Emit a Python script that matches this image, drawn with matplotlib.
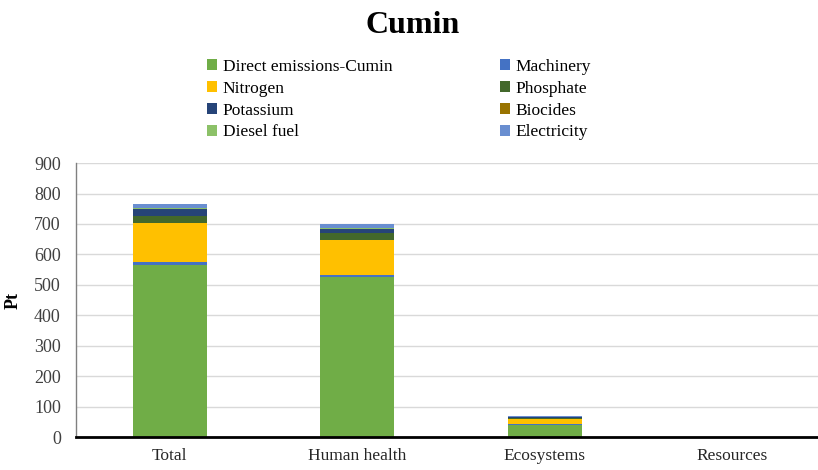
import numpy as np
import matplotlib
matplotlib.use('Agg')
import matplotlib.pyplot as plt
from matplotlib.patches import Patch

plt.rcParams['font.family'] = ['Liberation Serif', 'DejaVu Serif']

categories = ['Total', 'Human health', 'Ecosystems', 'Resources']

series = ['Direct emissions-Cumin', 'Machinery', 'Nitrogen', 'Phosphate',
          'Potassium', 'Biocides', 'Diesel fuel', 'Electricity']

direct = [564, 525, 40, 0.3]
machinery = [11, 9, 4, 0.1]
nitrogen = [127, 112, 16, 0.1]
phosphate = [25, 23, 3, 0.1]
potassium = [22, 15, 2, 0.1]
biocides = [1, 1, 0.5, 0.0]
diesel = [3, 3, 1, 0.1]
electricity = [13, 12, 3, 0.1]

values = [direct, machinery, nitrogen, phosphate, potassium, biocides, diesel, electricity]
colors = ['#70ad47', '#4472c4', '#ffc000', '#43682b',
          '#264478', '#997300', '#8cc168', '#698ed0']

fig = plt.figure(figsize=(8.18, 4.70), dpi=100)
ax = fig.add_axes([0.093, 0.070, 0.917, 0.583])

x = np.arange(len(categories))
bottom = np.zeros(len(categories))
for name, vals, c in zip(series, values, colors):
    ax.bar(x, vals, 0.395, bottom=bottom, color=c, label=name, zorder=3)
    bottom += np.array(vals)

ax.set_xlim(-0.5, 3.5)
ax.set_ylim(0, 900)
ax.set_yticks(np.arange(0, 901, 100))
ax.set_xticks(x)
ax.set_xticklabels(categories, fontsize=12.5, color='#262626')
ax.tick_params(axis='y', labelsize=13, length=0, pad=11, labelcolor='#404040')
ax.tick_params(axis='x', length=0, pad=8)
ax.grid(axis='y', color='#d9d9d9', linewidth=1, zorder=0)

for s in ['top', 'right']:
    ax.spines[s].set_visible(False)
ax.spines['left'].set_color('#808080')
ax.spines['left'].set_linewidth(1)
ax.spines['bottom'].set_color('black')
ax.spines['bottom'].set_linewidth(2)
ax.spines['bottom'].set_zorder(4)

ax.set_ylabel('Pt', fontsize=13, fontweight='bold', labelpad=9)

fig.text(0.505, 0.945, 'Cumin', ha='center', va='center', fontsize=23, fontweight='bold')

# legend laid out row by row, two columns
order = [0, 2, 4, 6, 1, 3, 5, 7]
handles = [Patch(facecolor=colors[i], edgecolor='none') for i in order]
labels = [series[i] for i in order]
fig.legend(handles, labels, ncol=2, loc='upper left', bbox_to_anchor=(0.253, 0.875),
           frameon=False, fontsize=12.5, handlelength=0.6, handleheight=0.6,
           handletextpad=0.3, columnspacing=6.2, labelspacing=0.34, borderpad=0,
           borderaxespad=0)

plt.savefig('out.png', dpi=100)
